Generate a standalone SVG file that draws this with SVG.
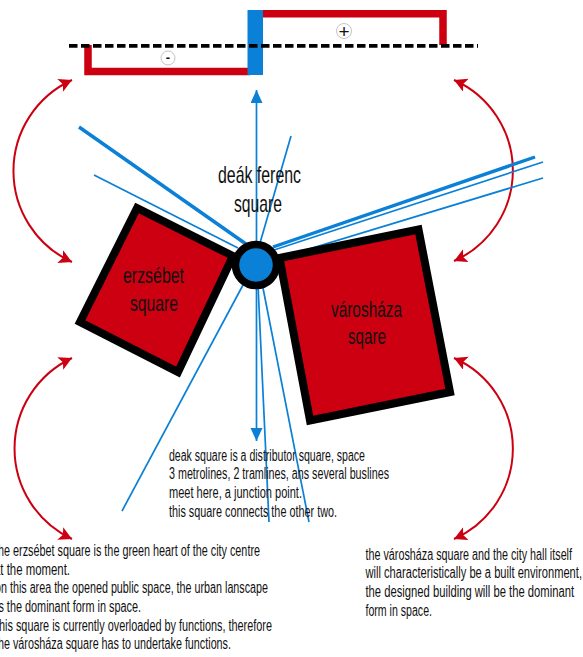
<svg xmlns="http://www.w3.org/2000/svg" width="583" height="657" viewBox="0 0 583 657">
<style>
text{font-family:"Liberation Sans",Arial,sans-serif;fill:#111}
.b{font-size:16px}
.l{font-size:24px}
.m{font-size:22px}
.bl{stroke:#0a80d6;fill:none;stroke-width:1.7}
.bt{stroke:#0a80d6;fill:none;stroke-width:3.4}
.rd{stroke:#cc0010;fill:none;stroke-width:7.500;stroke-linejoin:miter}
.ar{stroke:#cc0010;fill:none;stroke-width:2;marker-start:url(#rh);marker-end:url(#rh)}
.sq{fill:#cc0010;stroke:#000;stroke-width:8;stroke-linejoin:miter}
.sym{fill:#fff;stroke:#aaa;stroke-width:.7}
</style>
<defs>
<marker id="rh" markerUnits="userSpaceOnUse" markerWidth="15" markerHeight="15" refX="13" refY="7" orient="auto-start-reverse"><path d="M0 0L13 7L0 14L3 7Z" fill="#cc0010"/></marker>
<marker id="bh" markerUnits="userSpaceOnUse" markerWidth="14" markerHeight="14" refX="13" refY="6" orient="auto-start-reverse"><path d="M0 0L13 6L0 12Z" fill="#0a80d6"/></marker>
</defs>
<rect width="583" height="657" fill="#fff"/>
<g id="connectors">
<path class="ar" d="M72 80A100 100 0 0 0 72 262"/>
<path class="ar" d="M72 358A100 100 0 0 0 72 539"/>
<path class="ar" d="M454 80A99 99 0 0 1 454 261"/>
<path class="ar" d="M454 358A99 99 0 0 1 454 539"/>
<path class="bl" d="M256.500 90V441" marker-start="url(#bh)" marker-end="url(#bh)"/>
<path class="bt" d="M79 127L246 244"/>
<path class="bl" d="M94 175L238 248"/>
<path class="bl" d="M291 136L260 243"/>
<path class="bl" d="M122 511L243 285"/>
<path class="bl" d="M269 522L258 285"/>
<path class="bl" d="M309 522L263 288"/>
<path class="bt" d="M535 157L273 247"/>
<path class="bl" d="M543 162L274 250"/>
<path class="bl" d="M543 178L276 259"/>
</g>
<g id="section">
<path class="rd" d="M88 45V71.500H250"/>
<path class="rd" d="M260 13.800H443V45"/>
<rect x="247.500" y="10" width="15.500" height="65" fill="#0a80d6"/>
<path d="M69 45.800H478" stroke="#000" stroke-width="3.800" stroke-dasharray="8.500 3.500" fill="none"/>
<circle class="sym" cx="168" cy="58" r="7"/>
<text x="168" y="62" text-anchor="middle" style="font-size:13px;font-weight:bold">-</text>
<circle class="sym" cx="344" cy="31" r="7.500"/>
<text x="344" y="37.500" text-anchor="middle" style="font-size:19px">+</text>
</g>
<g id="erzsebet">
<path class="sq" d="M137 208L233 256L178 372L80 322Z"/>
<text class="m" x="123" y="283" textLength="61" lengthAdjust="spacingAndGlyphs">erzsébet</text>
<text class="m" x="130" y="311" textLength="48" lengthAdjust="spacingAndGlyphs">square</text>
</g>
<g id="varoshaza">
<path class="sq" d="M279.500 258L418.500 229.500L450 392L310 420.500Z"/>
<text class="m" x="331" y="317" textLength="71" lengthAdjust="spacingAndGlyphs">városháza</text>
<text class="m" x="348" y="344" textLength="38" lengthAdjust="spacingAndGlyphs">sqare</text>
</g>
<g id="deak">
<circle cx="256" cy="265" r="20.500" fill="#0a80d6" stroke="#000" stroke-width="7.500"/>
<text class="l" x="218" y="183" textLength="83" lengthAdjust="spacingAndGlyphs">deák ferenc</text>
<text class="l" x="234" y="212" textLength="48" lengthAdjust="spacingAndGlyphs">square</text>
</g>
<g id="deak-note">
<text class="b" x="169" y="461" textLength="196" lengthAdjust="spacingAndGlyphs">deak square is a distributor square, space</text>
<text class="b" x="169" y="479" textLength="220" lengthAdjust="spacingAndGlyphs">3 metrolines, 2 tramlines, ans several buslines</text>
<text class="b" x="169" y="498" textLength="133" lengthAdjust="spacingAndGlyphs">meet here, a junction point.</text>
<text class="b" x="169" y="517" textLength="168" lengthAdjust="spacingAndGlyphs">this square connects the other two.</text>
</g>
<g id="erzsebet-note">
<text class="b" x="-5" y="556" textLength="265" lengthAdjust="spacingAndGlyphs">the erzsébet square is the green heart of the city centre</text>
<text class="b" x="-6" y="575" textLength="76" lengthAdjust="spacingAndGlyphs">at the moment.</text>
<text class="b" x="-5" y="593" textLength="273" lengthAdjust="spacingAndGlyphs">on this area the opened public space, the urban lanscape</text>
<text class="b" x="-4" y="612" textLength="145" lengthAdjust="spacingAndGlyphs">is the dominant form in space.</text>
<text class="b" x="-4" y="631" textLength="276" lengthAdjust="spacingAndGlyphs">this square is currently overloaded by functions, therefore</text>
<text class="b" x="-5" y="649" textLength="236" lengthAdjust="spacingAndGlyphs">the városháza square has to undertake functions.</text>
</g>
<g id="varoshaza-note">
<text class="b" x="365.500" y="560" textLength="206.500" lengthAdjust="spacingAndGlyphs">the városháza square and the city hall itself</text>
<text class="b" x="365.500" y="578" textLength="216.500" lengthAdjust="spacingAndGlyphs">will characteristically be a built environment,</text>
<text class="b" x="365.500" y="597" textLength="208.500" lengthAdjust="spacingAndGlyphs">the designed building will be the dominant</text>
<text class="b" x="365.500" y="616" textLength="66.500" lengthAdjust="spacingAndGlyphs">form in space.</text>
</g>
</svg>
